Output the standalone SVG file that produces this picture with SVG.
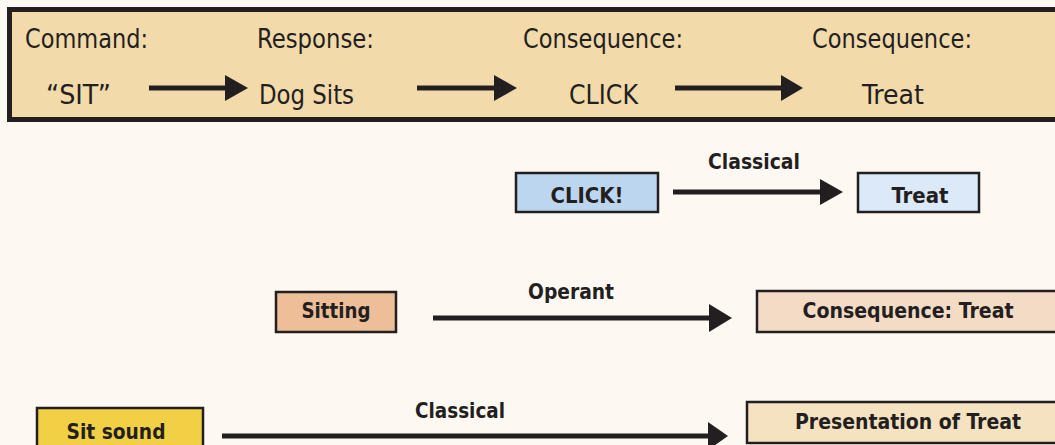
<svg xmlns="http://www.w3.org/2000/svg" width="1055" height="445" viewBox="0 0 1055 445">
<style>
.reg{font-family:"DejaVu Sans","Liberation Sans",sans-serif;font-size:26px;fill:#231F20;font-stretch:condensed}
.bld{font-family:"DejaVu Sans","Liberation Sans",sans-serif;font-size:21px;font-weight:bold;fill:#231F20;font-stretch:condensed}
.box{stroke:#231F20;stroke-width:2.5}
.ln{stroke:#231F20;stroke-width:5;fill:none}
.hd{fill:#231F20}
</style>
<rect x="0" y="0" width="1055" height="445" fill="#FDF8F1"/>
<g id="banner">
<rect x="9.5" y="9.5" width="1060" height="110" fill="#F2DAAA" stroke="#231F20" stroke-width="5"/>
<text class="reg" x="25" y="48" textLength="123" lengthAdjust="spacingAndGlyphs">Command:</text>
<text class="reg" x="257" y="48" textLength="117" lengthAdjust="spacingAndGlyphs">Response:</text>
<text class="reg" x="523" y="48" textLength="160" lengthAdjust="spacingAndGlyphs">Consequence:</text>
<text class="reg" x="812" y="48" textLength="160" lengthAdjust="spacingAndGlyphs">Consequence:</text>
<text class="reg" x="46" y="104" textLength="65" lengthAdjust="spacingAndGlyphs">“SIT”</text>
<text class="reg" x="259" y="104" textLength="95" lengthAdjust="spacingAndGlyphs">Dog Sits</text>
<text class="reg" x="569" y="104" textLength="69" lengthAdjust="spacingAndGlyphs">CLICK</text>
<text class="reg" x="862" y="104" textLength="62" lengthAdjust="spacingAndGlyphs">Treat</text>
</g>
<g id="click">
<rect class="box" x="516" y="173" width="142" height="39" fill="#BDD6F0"/>
<text class="bld" x="587" y="203" text-anchor="middle" textLength="73" lengthAdjust="spacingAndGlyphs">CLICK!</text>
</g>
<g id="treat">
<rect class="box" x="858" y="173" width="121" height="39" fill="#DCE9F8"/>
<text class="bld" x="920" y="203" text-anchor="middle" textLength="57" lengthAdjust="spacingAndGlyphs">Treat</text>
</g>
<g id="sitting">
<rect class="box" x="276" y="292" width="120" height="40" fill="#EDBE97"/>
<text class="bld" x="336" y="318" text-anchor="middle" textLength="69" lengthAdjust="spacingAndGlyphs">Sitting</text>
</g>
<g id="consequence-treat">
<rect class="box" x="757" y="291" width="310" height="41" fill="#F3DBC6"/>
<text class="bld" x="908" y="318" text-anchor="middle" textLength="211" lengthAdjust="spacingAndGlyphs">Consequence: Treat</text>
</g>
<g id="sit-sound">
<rect class="box" x="37" y="408" width="166" height="50" fill="#F2D046"/>
<text class="bld" x="116" y="439" text-anchor="middle" textLength="99" lengthAdjust="spacingAndGlyphs">Sit sound</text>
</g>
<g id="presentation">
<rect class="box" x="747" y="402" width="320" height="41" fill="#F5E2C1"/>
<text class="bld" x="908" y="429" text-anchor="middle" textLength="226" lengthAdjust="spacingAndGlyphs">Presentation of Treat</text>
</g>
<g id="connectors">
<line class="ln" x1="149" y1="88" x2="227" y2="88"/>
<polygon class="hd" points="225,75 248,88 225,101"/>
<line class="ln" x1="417" y1="88" x2="496" y2="88"/>
<polygon class="hd" points="494,75 517,88 494,101"/>
<line class="ln" x1="675" y1="88" x2="783" y2="88"/>
<polygon class="hd" points="781,75 803,88 781,101"/>
<line class="ln" x1="673" y1="192" x2="822" y2="192"/>
<polygon class="hd" points="820,179 843,192 820,205"/>
<text class="bld" x="754" y="169" text-anchor="middle" textLength="92" lengthAdjust="spacingAndGlyphs">Classical</text>
<line class="ln" x1="433" y1="318" x2="711" y2="318"/>
<polygon class="hd" points="709,304 732,318 709,332"/>
<text class="bld" x="571" y="299" text-anchor="middle" textLength="86" lengthAdjust="spacingAndGlyphs">Operant</text>
<line class="ln" x1="222" y1="436" x2="710" y2="436"/>
<polygon class="hd" points="708,422 728,436 708,450"/>
<text class="bld" x="460" y="418" text-anchor="middle" textLength="90" lengthAdjust="spacingAndGlyphs">Classical</text>
</g>
</svg>
